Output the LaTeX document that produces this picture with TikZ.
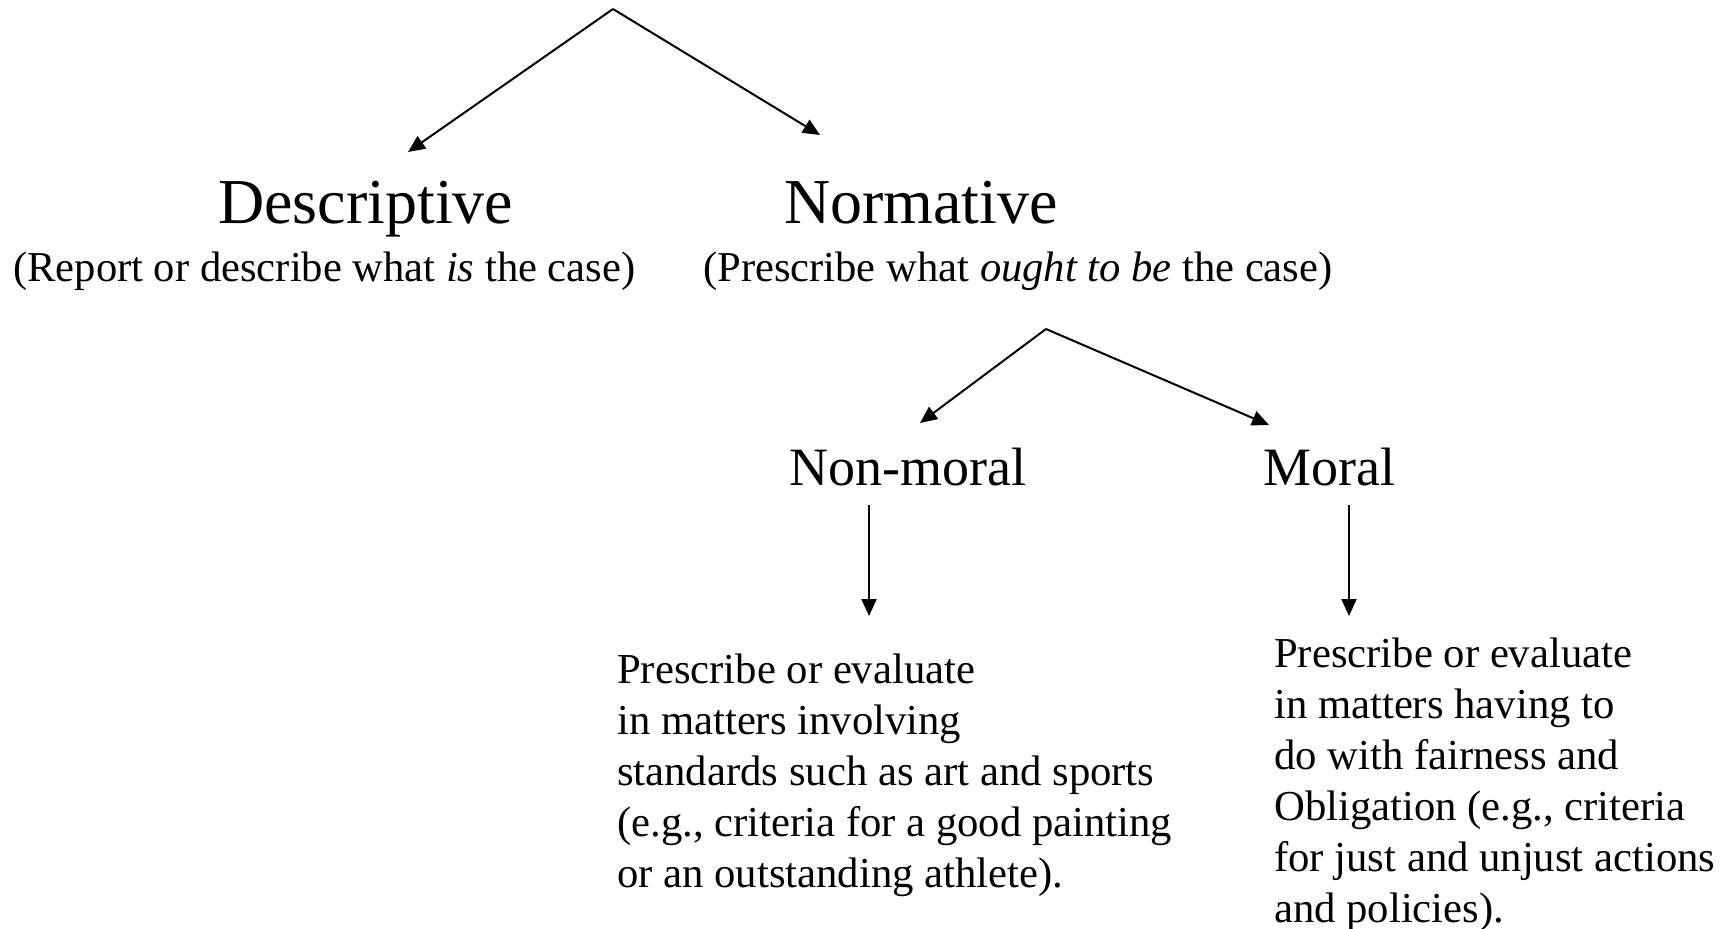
\documentclass[tikz,border=0pt]{standalone}
\usepackage{fontspec}
\setmainfont{Liberation Serif}
\usetikzlibrary{arrows.meta}
\tikzset{
  conn/.style={line width=2pt,-{Triangle[length=17pt,width=15pt]}},
  title/.style={inner sep=0pt,anchor=base west,font=\fontsize{64}{70}\selectfont},
  sub/.style={inner sep=0pt,anchor=base west,font=\fontsize{42.6}{51}\selectfont},
  cat/.style={inner sep=0pt,anchor=base west,font=\fontsize{54}{60}\selectfont},
  body/.style={inner sep=0pt,anchor=north west,align=left,font=\fontsize{42.7}{51}\selectfont},
}
\begin{document}
\begin{tikzpicture}[x=1pt,y=-1pt]
\useasboundingbox (0,0) rectangle (1733,929);
% top split
\coordinate (top) at (613,9);
\coordinate (tipD) at (408,152);
\coordinate (tipN) at (820,135);
\node[title] (desc) at (218,223) {Descriptive};
\node[title] (norm) at (784,223) {Normative};
\node[sub] (descsub) at (13,281) {(Report or describe what \textit{is} the case)};
\node[sub] (normsub) at (703,281) {(Prescribe what \textit{ought to be} the case)};
\draw[conn] (top) -- (tipD);
\draw[conn] (top) -- (tipN);
% second split
\coordinate (top2) at (1046,329);
\coordinate (tipNM) at (920,423);
\coordinate (tipM) at (1269,425);
\draw[conn] (top2) -- (tipNM);
\draw[conn] (top2) -- (tipM);
\node[cat] (nonmoral) at (789,485) {Non-moral};
\node[cat] (moral) at (1263,485) {Moral};
% vertical arrows
\coordinate (nmstart) at (869,505);
\coordinate (nmend) at (869,616);
\coordinate (mstart) at (1349,505);
\coordinate (mend) at (1349,616);
\draw[conn] (nmstart) -- (nmend);
\draw[conn] (mstart) -- (mend);
% bodies
\node[body] (nmbody) at (617,653.6) {Prescribe or evaluate\\in matters involving\\standards such as art and sports\\(e.g., criteria for a good painting\\or an outstanding athlete).};
\node[body] (mbody) at (1274,638) {Prescribe or evaluate\\in matters having to\\do with fairness and\\Obligation (e.g., criteria\\for just and unjust actions\\and policies).};
\end{tikzpicture}
\end{document}
